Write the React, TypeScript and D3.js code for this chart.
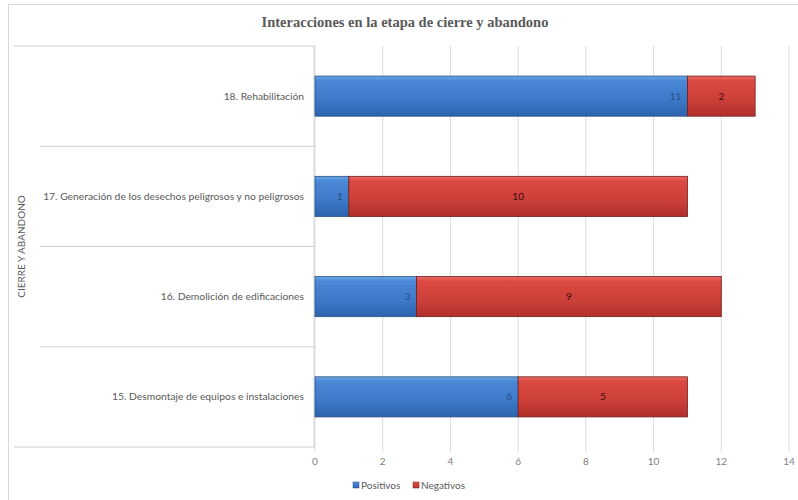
import React from "react";
import * as d3 from "d3";

const categories = [
  "18. Rehabilitación",
  "17. Generación de los desechos peligrosos y no peligrosos",
  "16. Demolición de edificaciones",
  "15. Desmontaje de equipos e instalaciones",
];
const positivos = [11, 1, 3, 6];
const negativos = [2, 10, 9, 5];
const xTicks = [0, 2, 4, 6, 8, 10, 12, 14];
const groupLabel = "CIERRE Y ABANDONO";
const title = "Interacciones en la etapa de cierre y abandono";

const W = 798;
const H = 500;
const plotLeft = 315;
const plotRight = 789;
const plotTop = 46;
const plotBottom = 447;

export default function App() {
  const x = d3.scaleLinear().domain([0, 14]).range([plotLeft, plotRight]);
  const y = d3
    .scaleBand<string>()
    .domain(categories)
    .range([plotTop, plotBottom])
    .paddingInner(0.6)
    .paddingOuter(0.3);
  const band = d3.scaleBand<string>().domain(categories).range([plotTop, plotBottom]);
  const font = "Lato, 'Open Sans', 'Liberation Sans', sans-serif";

  return (
    <div style={{ position: "fixed", left: 0, top: 0, width: W, height: H, overflow: "hidden" }}>
      <svg width={W} height={H} style={{ display: "block", background: "#fff" }}>
        <defs>
          <linearGradient id="gBlue" x1="0" y1="0" x2="0" y2="1">
            <stop offset="0" stopColor="#6aa5e6" />
            <stop offset="0.12" stopColor="#4a88d6" />
            <stop offset="0.6" stopColor="#3c79c9" />
            <stop offset="1" stopColor="#2d63ad" />
          </linearGradient>
          <linearGradient id="gRed" x1="0" y1="0" x2="0" y2="1">
            <stop offset="0" stopColor="#ec6a62" />
            <stop offset="0.12" stopColor="#db4a42" />
            <stop offset="0.6" stopColor="#cc3f39" />
            <stop offset="1" stopColor="#b0302b" />
          </linearGradient>
        </defs>
        {/* outer border */}
        <rect x={8.5} y={4.5} width={W} height={H} fill="none" stroke="#d9d9d9" />
        {/* title */}
        <text
          x={405}
          y={27}
          textAnchor="middle"
          fontFamily="'Liberation Serif', 'DejaVu Serif', serif"
          fontWeight="bold"
          fontSize={14.5}
          fill="#595959"
        >
          {title}
        </text>
        {/* gridlines */}
        {xTicks.map((t) => (
          <line
            key={"g" + t}
            x1={x(t)}
            x2={x(t)}
            y1={plotTop}
            y2={plotBottom + 5}
            stroke="#dcdcdc"
            strokeWidth={1}
          />
        ))}
        {/* category axis box */}
        <line x1={14} x2={plotLeft} y1={plotTop} y2={plotTop} stroke="#d0d0d0" />
        <line x1={14} x2={plotLeft} y1={plotBottom} y2={plotBottom} stroke="#d0d0d0" />
        {categories.slice(1).map((c) => (
          <line
            key={"sep" + c}
            x1={40}
            x2={plotLeft}
            y1={band(c)!}
            y2={band(c)!}
            stroke="#d0d0d0"
          />
        ))}
        <line x1={plotLeft - 1} x2={plotLeft - 1} y1={plotTop} y2={plotBottom} stroke="#d0d0d0" />
        {/* group label */}
        <text
          transform={`translate(25,${(plotTop + plotBottom) / 2}) rotate(-90)`}
          textAnchor="middle"
          fontFamily={font}
          fontSize={10}
          fill="#595959"
        >
          {groupLabel}
        </text>
        {/* category labels */}
        {categories.map((c) => (
          <text
            key={"l" + c}
            x={304}
            y={y(c)! + y.bandwidth() / 2}
            dy="0.35em"
            textAnchor="end"
            fontFamily={font}
            fontSize={10.3}
            fill="#595959"
          >
            {c}
          </text>
        ))}
        {/* bars */}
        {categories.map((c, i) => {
          const y0 = y(c)!;
          const h = y.bandwidth();
          const p = positivos[i];
          const n = negativos[i];
          return (
            <g key={"b" + c}>
              <rect
                x={x(0)}
                y={y0}
                width={x(p) - x(0)}
                height={h}
                fill="url(#gBlue)"
                stroke="#2a4f80"
                strokeWidth={0.8}
              />
              <rect
                x={x(p)}
                y={y0}
                width={x(p + n) - x(p)}
                height={h}
                fill="url(#gRed)"
                stroke="#6e1f1c"
                strokeWidth={0.8}
              />
              <text
                x={x(p) - 6}
                y={y0 + h / 2}
                dy="0.35em"
                textAnchor="end"
                fontFamily={font}
                fontSize={10}
                fill="#2b4d7d"
              >
                {p}
              </text>
              <text
                x={(x(p) + x(p + n)) / 2}
                y={y0 + h / 2}
                dy="0.35em"
                textAnchor="middle"
                fontFamily={font}
                fontSize={10}
                fill="#3a0a08"
              >
                {n}
              </text>
            </g>
          );
        })}
        {/* x tick labels */}
        {xTicks.map((t) => (
          <text
            key={"t" + t}
            x={x(t)}
            y={465}
            textAnchor="middle"
            fontFamily={font}
            fontSize={10}
            fill="#7f7f7f"
          >
            {t}
          </text>
        ))}
        {/* legend */}
        <rect x={353} y={482} width={6} height={6} fill="url(#gBlue)" stroke="#2a4f80" strokeWidth={0.5} />
        <text x={361} y={489} fontFamily={font} fontSize={10} fill="#595959">
          Positivos
        </text>
        <rect x={413} y={482} width={6} height={6} fill="url(#gRed)" stroke="#6e1f1c" strokeWidth={0.5} />
        <text x={421} y={489} fontFamily={font} fontSize={10} fill="#595959">
          Negativos
        </text>
      </svg>
    </div>
  );
}
